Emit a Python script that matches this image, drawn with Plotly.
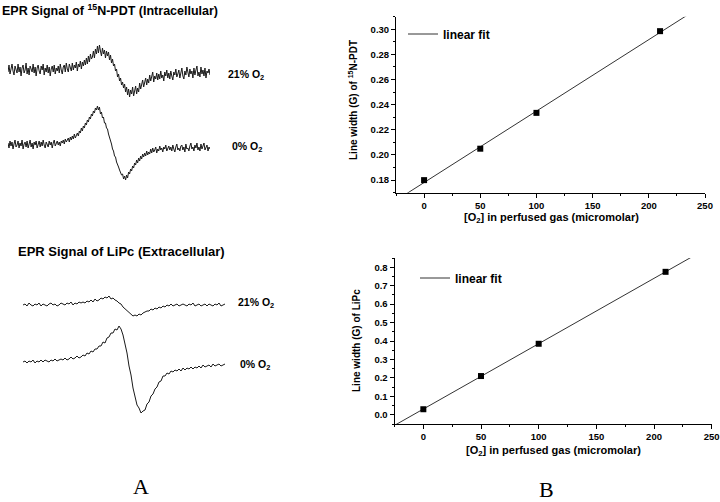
import numpy as np
import plotly.graph_objects as go

W, H = 720, 502

# ---------------- data: panel B ----------------
o2_conc = [0, 50, 100, 210]
lw_pdt = [0.180, 0.205, 0.2335, 0.2985]
lw_lipc = [0.030, 0.210, 0.385, 0.775]

# axis ranges (B)
x_range = [-25, 250]
y_range_pdt = [0.17, 0.31]
y_range_lipc = [-0.05, 0.85]

# ---------------- data: panel A (EPR traces) ----------------
# amplitude (arbitrary units, positive up) vs field point index
pdt_21 = [-2, 5, -4, 3, 6, -1, -5, 4, 1, -3,
          6, -2, 3, -6, 2, 5, -3, 0, 7, -4,
          2, -5, 4, 1, -2, 6, -3, 3, -6, 2,
          5, -1, -4, 4, 0, 6, -5, 2, -2, 5,
          -3, 3, -6, 1, 4, -2, 5, -4, 2, -1,
          4, -3, 6, 0, -4, 3, 5, -2, 7, 1,
          -2, 6, 3, -1, 7, 0, 5, 2, 8, -1,
          6, 3, 9, 1, 8, 4, 10, 5, 12, 6,
          14, 8, 16, 11, 13, 19, 12, 21, 16, 24,
          17, 25, 19, 14, 22, 16, 20, 12, 19, 14,
          18, 10, 15, 7, 11, 4, 6, -1, 1, -7,
          -4, -11, -8, -15, -12, -18, -14, -22, -17, -25,
          -19, -27, -20, -24, -17, -26, -21, -16, -24, -18,
          -22, -13, -19, -15, -10, -17, -12, -8, -15, -9,
          -13, -5, -11, -7, -2, -12, -6, -9, -3, -10,
          -4, -9, -1, -8, -5, -11, -2, -6, 0, -8,
          -3, -9, -1, -6, -10, -2, -5, 1, -7, -4,
          0, -8, -3, 2, -6, -9, -1, -5, 3, -4,
          -7, 1, -4, -1, -8, 2, -5, 0, 4, -6,
          -2, -7, 3, -4, 0, -6, 2, -8, -1, -3,
          1, -5]
pdt_0 = [2, -3, 4, -1, 3, -4, 1, 5, -2, 0,
         4, -3, 2, -1, 5, -4, 1, 3, -2, 4,
         -3, 1, 5, -2, 2, -4, 3, 0, 4, -3,
         1, 4, -2, 3, -1, 5, 0, -3, 3, 1,
         -2, 4, 0, 3, -3, 2, 5, -1, 2, 4,
         0, 3, -1, 4, 2, 5, 1, 6, 3, 5,
         7, 3, 8, 5, 9, 6, 11, 7, 10, 12,
         9, 14, 12, 17, 14, 19, 17, 22, 20, 25,
         23, 28, 26, 31, 29, 34, 32, 37, 35, 39,
         35, 38, 31, 33, 27, 28, 22, 22, 17, 16,
         11, 8, 4, 1, -4, -6, -11, -12, -17, -19,
         -22, -25, -27, -30, -29, -34, -31, -35, -30, -33,
         -27, -29, -24, -26, -21, -23, -18, -20, -15, -18,
         -13, -16, -11, -14, -9, -12, -8, -11, -6, -10,
         -7, -9, -4, -8, -3, -7, -5, -2, -8, -4,
         -6, -1, -5, -3, -7, -2, -4, 0, -6, -3,
         -1, -5, -2, -6, 0, -4, -7, -2, 1, -5,
         -3, -6, -1, 0, -5, -2, -7, 1, -4, -3,
         -6, -1, 2, -4, -2, -6, 0, -3, 2, -5,
         -2, -6, 1, -4, -1, 2, -5, -3, 0, -6,
         -2, -4]
lipc_21 = [0, 1, -1, 2, 0, -1, 1, 0, 2, -1,
           1, 0, -1, 1, 2, 0, 1, -1, 0, 2,
           1, 0, 2, 1, 3, 0, 2, 1, 3, 2,
           3, 2, 4, 3, 5, 3, 6, 4, 5, 7,
           6, 8, 7, 9, 6, 7, 5, 4, 2, 1,
           -2, -4, -6, -8, -9, -11, -10, -11, -9, -10,
           -8, -7, -6, -6, -4, -5, -3, -4, -2, -3,
           -1, -2, 0, -1, 1, -1, 0, 1, -1, 0,
           1, 0, -1, 1, 0, 2, -1, 0, 1, -1,
           0, 1, -1, 1, 0, -1, 1, 0, 2, -1,
           0, 1]
lipc_0 = [0, 1, -1, 1, 0, 2, -1, 1, 0, 2,
          0, 2, 1, 0, 2, 1, 3, 1, 2, 3,
          2, 4, 2, 3, 5, 3, 4, 6, 4, 5,
          7, 6, 9, 8, 11, 10, 13, 13, 16, 16,
          20, 19, 24, 25, 29, 29, 33, 32, 36, 33,
          27, 18, 9, -4, -13, -26, -35, -43, -46, -51,
          -49, -48, -42, -40, -34, -32, -27, -25, -20, -19,
          -14, -14, -11, -12, -9, -10, -8, -9, -7, -9,
          -6, -8, -6, -7, -5, -7, -5, -6, -4, -6,
          -3, -5, -4, -3, -5, -2, -4, -3, -2, -4,
          -3, -2]

trace_labels = ["21% O<sub>2</sub>", "0% O<sub>2</sub>", "21% O<sub>2</sub>", "0% O<sub>2</sub>"]


def px_x(p):
    return p / W


def px_y(p):
    return 1 - p / H


fig = go.Figure()

BOLD = dict(family="Liberation Sans, Arial, sans-serif", weight="bold", color="black")

# ---------------- panel A traces ----------------
# (series, x px start, x px end, baseline px, top px, bottom px)
traces_A = [
    (pdt_21, 8, 210, 70, 40, 105),
    (pdt_0, 8, 210, 145, 100, 185),
    (lipc_21, 23, 225, 305, 290, 320),
    (lipc_0, 23, 225, 362, 320, 420),
]
for k, (series, x0, x1, base, top, bot) in enumerate(traces_A):
    n = k + 3
    fig.add_trace(go.Scatter(
        x=list(range(len(series))), y=series, mode="lines",
        line=dict(color="#1a1a1a", width=1), showlegend=False,
        xaxis=f"x{n}", yaxis=f"y{n}", hoverinfo="skip"))
    fig.update_layout(**{
        f"xaxis{n}": dict(domain=[px_x(x0), px_x(x1)], range=[0, len(series) - 1],
                          visible=False, anchor=f"y{n}", automargin=False),
        f"yaxis{n}": dict(domain=[px_y(bot), px_y(top)], range=[base - bot, base - top],
                          visible=False, anchor=f"x{n}", automargin=False),
    })

# ---------------- panel B ----------------
def fit_line(x, y):
    m, b = np.polyfit(x, y, 1)
    xs = np.array(x_range, dtype=float)
    return xs, m * xs + b

for n, ys, leg in [(1, lw_pdt, "legend"), (2, lw_lipc, "legend2")]:
    xa = "x" if n == 1 else "x2"
    ya = "y" if n == 1 else "y2"
    fx, fy = fit_line(o2_conc, ys)
    fig.add_trace(go.Scatter(x=fx, y=fy, mode="lines", name="linear fit",
                             line=dict(color="#333333", width=1),
                             xaxis=xa, yaxis=ya, legend=leg, showlegend=True))
    fig.add_trace(go.Scatter(x=o2_conc, y=ys, mode="markers",
                             marker=dict(symbol="square", size=6, color="black"),
                             xaxis=xa, yaxis=ya, showlegend=False, cliponaxis=False))

axis_common = dict(showline=True, linecolor="black", linewidth=1, ticks="outside",
                   ticklen=4, tickwidth=1, tickcolor="black", showgrid=False,
                   zeroline=False, tickfont=dict(size=9.5, **BOLD), automargin=False,
                   minor=dict(ticks="outside", ticklen=2, tickcolor="black", tickwidth=1))

fig.update_layout(
    xaxis=dict(domain=[px_x(396), px_x(705)], range=x_range, anchor="y",
               tick0=0, dtick=50, minor_dtick=25, **axis_common),
    yaxis=dict(domain=[px_y(192.7), px_y(16.7)], range=y_range_pdt, anchor="x",
               tick0=0.18, dtick=0.02, minor_dtick=0.01, tickformat=".2f", **axis_common),
    xaxis2=dict(domain=[px_x(394.5), px_x(711.7)], range=x_range, anchor="y2",
                tick0=0, dtick=50, minor_dtick=25, **axis_common),
    yaxis2=dict(domain=[px_y(424), px_y(258)], range=y_range_lipc, anchor="x2",
                tick0=0, dtick=0.1, minor_dtick=0.05, tickformat=".1f", **axis_common),
)

legend_common = dict(bgcolor="rgba(0,0,0,0)", font=dict(size=12, **BOLD),
                     xanchor="left", yanchor="middle", itemwidth=30,
                     tracegroupgap=0)
fig.update_layout(
    legend=dict(x=px_x(403), y=px_y(34), **legend_common),
    legend2=dict(x=px_x(415), y=px_y(278), **legend_common),
)

annotations = [
    dict(text="EPR Signal of <sup>15</sup>N-PDT (Intracellular)", x=px_x(0), y=px_y(10),
         xanchor="left", yanchor="middle", font=dict(size=12.5, **BOLD)),
    dict(text="EPR Signal of LiPc (Extracellular)", x=px_x(16), y=px_y(251),
         xanchor="left", yanchor="middle", font=dict(size=13, **BOLD)),
    dict(text=trace_labels[0], x=px_x(226), y=px_y(75), xanchor="left", yanchor="middle",
         font=dict(size=10.5, **BOLD)),
    dict(text=trace_labels[1], x=px_x(230), y=px_y(147), xanchor="left", yanchor="middle",
         font=dict(size=10.5, **BOLD)),
    dict(text=trace_labels[2], x=px_x(236), y=px_y(303), xanchor="left", yanchor="middle",
         font=dict(size=10.5, **BOLD)),
    dict(text=trace_labels[3], x=px_x(238), y=px_y(365), xanchor="left", yanchor="middle",
         font=dict(size=10.5, **BOLD)),
    dict(text="[O<sub>2</sub>] in perfused gas (micromolar)", x=px_x(551), y=px_y(218),
         xanchor="center", yanchor="middle", font=dict(size=11, **BOLD)),
    dict(text="[O<sub>2</sub>] in perfused gas (micromolar)", x=px_x(553), y=px_y(451),
         xanchor="center", yanchor="middle", font=dict(size=11, **BOLD)),
    dict(text="Line width (G) of <sup>15</sup>N-PDT", x=px_x(353), y=px_y(100), textangle=-90,
         xanchor="center", yanchor="middle", font=dict(size=10, **BOLD)),
    dict(text="Line width (G) of LiPc", x=px_x(356), y=px_y(341), textangle=-90,
         xanchor="center", yanchor="middle", font=dict(size=10, **BOLD)),
    dict(text="A", x=px_x(141), y=px_y(486), xanchor="center", yanchor="middle",
         font=dict(size=22, family="Liberation Serif, Times New Roman, serif", color="black")),
    dict(text="B", x=px_x(546), y=px_y(489), xanchor="center", yanchor="middle",
         font=dict(size=22, family="Liberation Serif, Times New Roman, serif", color="black")),
]
for a in annotations:
    a.update(xref="paper", yref="paper", showarrow=False)

fig.update_layout(
    width=W, height=H, margin=dict(l=0, r=0, t=0, b=0, autoexpand=False),
    paper_bgcolor="white", plot_bgcolor="white",
    annotations=annotations,
)

fig.write_html("out.html", config={"displayModeBar": False},
               post_script="document.body.style.margin='0';document.body.style.padding='0';")
